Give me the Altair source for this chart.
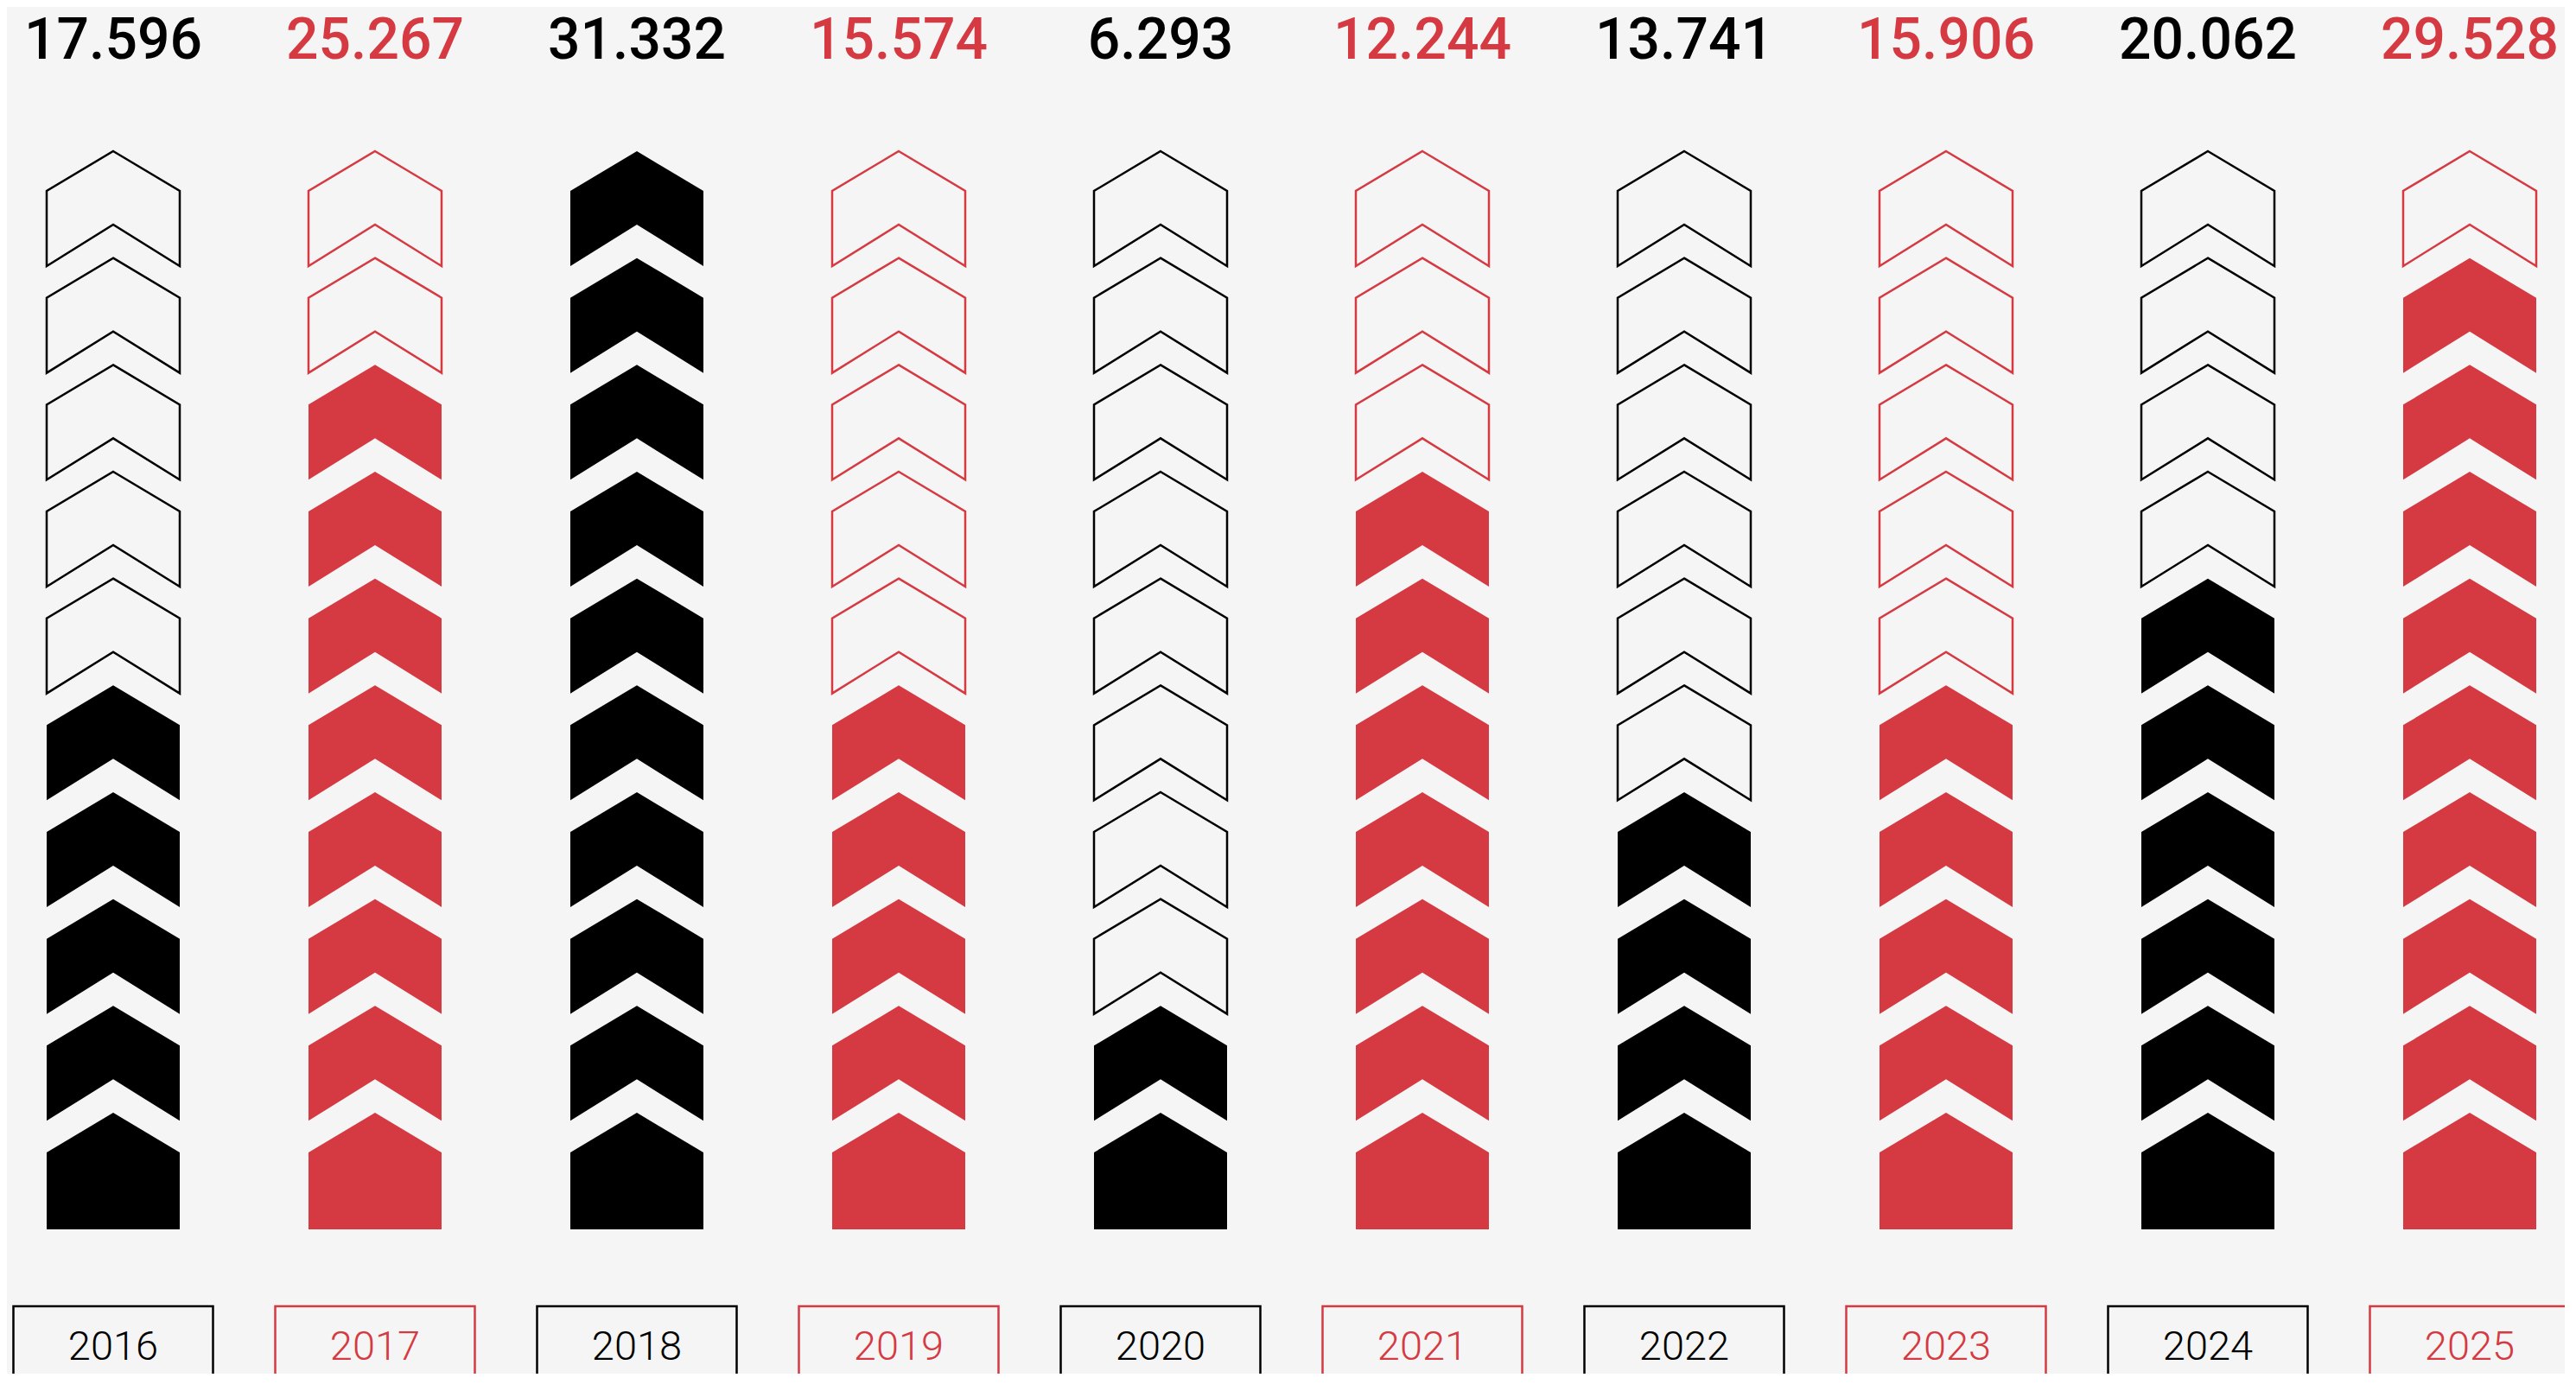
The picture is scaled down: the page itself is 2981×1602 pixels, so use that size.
import altair as alt
import pandas as pd

# ---- data ----
years = ["2016", "2017", "2018", "2019", "2020", "2021", "2022", "2023", "2024", "2025"]
values = ["17.596", "25.267", "31.332", "15.574", "6.293", "12.244", "13.741", "15.906", "20.062", "29.528"]
filled_counts = [5, 8, 10, 5, 2, 7, 4, 5, 6, 9]
groups = ["k", "r", "k", "r", "k", "r", "k", "r", "k", "r"]
slots = list(range(1, 11))

BLACK = "#000000"
RED = "#D53A42"
BG = "#F5F5F5"

# chevron symbol paths (unit box, scaled by sqrt(size)/2)
CHEV = "M0,-0.8636 L1,-0.2662 L1,0.8636 L0,0.2403 L-1,0.8636 L-1,-0.2662 Z"
BASE = "M0,-0.8636 L1,-0.2662 L1,0.8896 L-1,0.8896 L-1,-0.2662 Z"
BOX = "M-1,-0.394 L1,-0.394 L1,0.394 L-1,0.394 Z"

rows = []
for y, n, g in zip(years, filled_counts, groups):
    for k in slots:
        rows.append({
            "year": y,
            "slot": k,
            "grp": g,
            "kind": "base" if k == 1 else "chev",
            "filled": k <= n,
        })
chev_df = pd.DataFrame(rows)
lab_df = pd.DataFrame({"year": years, "value": values, "grp": groups})

x_enc = alt.X("year:N", sort=years, axis=None,
              scale=alt.Scale(type="point", range=[123, 2850], padding=0))
y_enc = alt.Y("slot:Q", axis=None,
              scale=alt.Scale(domain=[1, 10], range=[1346.5, 233.5]))
color_enc = alt.Color("grp:N", legend=None,
                      scale=alt.Scale(domain=["k", "r"], range=[BLACK, RED]))
shape_enc = alt.Shape("kind:N", legend=None,
                      scale=alt.Scale(domain=["chev", "base"], range=[CHEV, BASE]))

base = alt.Chart(chev_df)

solid = base.transform_filter("datum.filled").mark_point(
    filled=True, opacity=1, size=23716, strokeWidth=0
).encode(x=x_enc, y=y_enc, color=color_enc, shape=shape_enc)

hollow = base.transform_filter("!datum.filled").mark_point(
    filled=False, opacity=1, size=23716, strokeWidth=2.5, strokeJoin="miter"
).encode(x=x_enc, y=y_enc, color=color_enc, shape=shape_enc)

labels = alt.Chart(lab_df)

top_text = labels.mark_text(
    font="Roboto", fontWeight=500, fontSize=66, baseline="alphabetic", align="center"
).encode(x=x_enc, y=alt.value(60), text="value:N", color=color_enc)

boxes = labels.mark_point(
    filled=False, opacity=1, size=53361, strokeWidth=2.5, shape=BOX
).encode(x=x_enc, y=alt.value(1549.5), color=color_enc)

year_text = labels.mark_text(
    font="Roboto", fontWeight=300, fontSize=47, baseline="alphabetic", align="center"
).encode(x=x_enc, y=alt.value(1566), text="year:N", color=color_enc)

chart = alt.layer(solid, hollow, top_text, boxes, year_text).properties(
    width=2960, height=1582,
    background=BG,
    padding=0,
    autosize=alt.AutoSizeParams(type="none"),
).configure_view(stroke=None)

chart.save("out.html", embed_options={"renderer": "svg", "actions": False})
